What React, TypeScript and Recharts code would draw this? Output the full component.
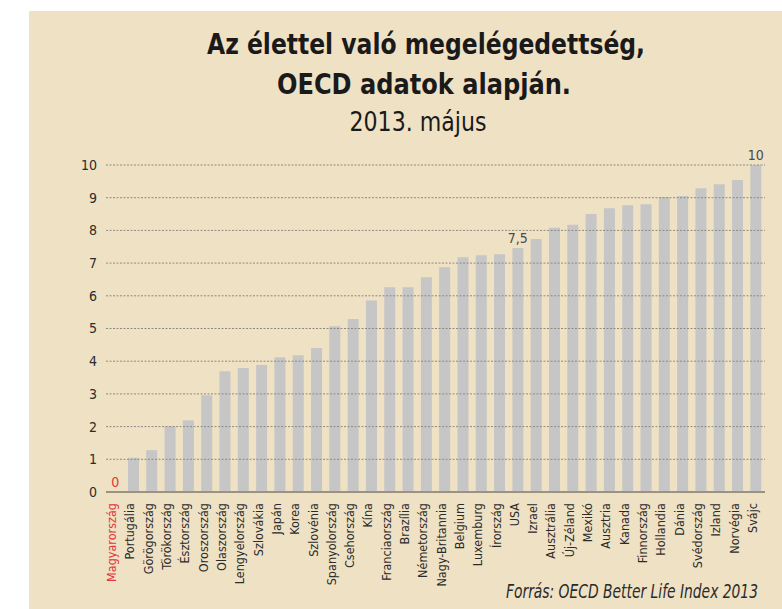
import { BarChart, Bar, XAxis, YAxis, ReferenceLine, ReferenceDot } from 'recharts'

const countries = [
  'Magyarország', 'Portugália', 'Görögország', 'Törökország', 'Észtország', 'Oroszország',
  'Olaszország', 'Lengyelország', 'Szlovákia', 'Japán', 'Korea', 'Szlovénia',
  'Spanyolország', 'Csehország', 'Kína', 'Franciaország', 'Brazília', 'Németország',
  'Nagy-Britannia', 'Belgium', 'Luxemburg', 'Írország', 'USA', 'Izrael',
  'Ausztrália', 'Új-Zéland', 'Mexikó', 'Ausztria', 'Kanada', 'Finnország',
  'Hollandia', 'Dánia', 'Svédország', 'Izland', 'Norvégia', 'Svájc',
]

const scores = [
  0, 1.05, 1.28, 2.01, 2.19, 2.96,
  3.69, 3.79, 3.88, 4.12, 4.18, 4.4,
  5.07, 5.29, 5.86, 6.26, 6.26, 6.57,
  6.87, 7.18, 7.24, 7.27, 7.46, 7.74,
  8.08, 8.17, 8.5, 8.68, 8.77, 8.8,
  9.02, 9.05, 9.29, 9.41, 9.54, 10,
]

// only these bars carry a value label
const labelledCountries = ['Magyarország', 'USA', 'Svájc']
const labelTexts = ['0', '7,5', '10']

const yTicks = [0, 1, 2, 3, 4, 5, 6, 7, 8, 9, 10]

const data = countries.map((c, i) => ({ country: c, score: scores[i] }))

const FONT = '"Liberation Sans Narrow", "DejaVu Sans Condensed", sans-serif'
const HOME = 'Magyarország'
const RED = '#e2343a'

function CountryTick({ x, y, payload }: any) {
  const home = payload.value === HOME
  return (
    <text
      x={x} y={y} dx={-11} dy={1}
      transform={`rotate(-90 ${x} ${y})`}
      textAnchor="end"
      fontSize={12.5}
      fontFamily={FONT}
      fill={home ? RED : '#2b2b2b'}
    >
      {payload.value}
    </text>
  )
}

export default function App() {
  return (
    <div style={{ position: 'absolute', left: 0, top: 0, width: 782, height: 609, background: '#fff', overflow: 'hidden' }}>
      <div style={{ position: 'absolute', left: 29, top: 11, right: 0, bottom: 0, background: '#efe1c4' }} />
      <svg width={782} height={609} style={{ position: 'absolute', left: 0, top: 0 }}>
        <text x={426} y={54} textAnchor="middle" fontFamily={FONT} fontWeight="bold" fontSize={28} fill="#1a1a1a"
          textLength={438} lengthAdjust="spacingAndGlyphs">
          Az élettel való megelégedettség,
        </text>
        <text x={424} y={94} textAnchor="middle" fontFamily={FONT} fontWeight="bold" fontSize={28} fill="#1a1a1a"
          textLength={294} lengthAdjust="spacingAndGlyphs">
          OECD adatok alapján.
        </text>
        <text x={418} y={131} textAnchor="middle" fontFamily={FONT} fontSize={26} fill="#1a1a1a"
          textLength={137} lengthAdjust="spacingAndGlyphs">
          2013. május
        </text>
        <text x={758} y={598} textAnchor="end" fontFamily={FONT} fontStyle="italic" fontSize={20} fill="#2b2b2b"
          textLength={252} lengthAdjust="spacingAndGlyphs">
          Forrás: OECD Better Life Index 2013
        </text>
      </svg>
      <div style={{ position: 'absolute', left: 0, top: 0 }}>
        <BarChart width={782} height={609} data={data} margin={{ top: 165, right: 17, left: 0, bottom: 0 }} barCategoryGap="20%">
          <XAxis
            dataKey="country"
            interval={0}
            height={117}
            tickSize={0}
            tickMargin={0}
            tickLine={false}
            axisLine={{ stroke: '#9b9282', strokeWidth: 2 }}
            tick={<CountryTick />}
          />
          <YAxis
            domain={[0, 10]}
            ticks={yTicks}
            width={106}
            tickSize={0}
            tickMargin={9}
            axisLine={false}
            tickLine={false}
            tick={{ fill: '#2b2b2b', fontSize: 14, fontFamily: FONT }}
          />
          <Bar dataKey="score" fill="#c6c6c6" isAnimationActive={false} />
          {yTicks.slice(1).map(t => (
            <ReferenceLine key={t} y={t} stroke="#8d8a84" strokeDasharray="2 1.5" strokeWidth={1} />
          ))}
          {labelledCountries.map((c, i) => (
            <ReferenceDot
              key={c}
              x={c}
              y={scores[countries.indexOf(c)]}
              r={0}
              stroke="none"
              label={{
                value: labelTexts[i],
                position: 'top',
                offset: 5,
                fontSize: 14,
                fontFamily: FONT,
                fill: c === HOME ? RED : '#4a4a4a',
              }}
            />
          ))}
        </BarChart>
      </div>
    </div>
  )
}
